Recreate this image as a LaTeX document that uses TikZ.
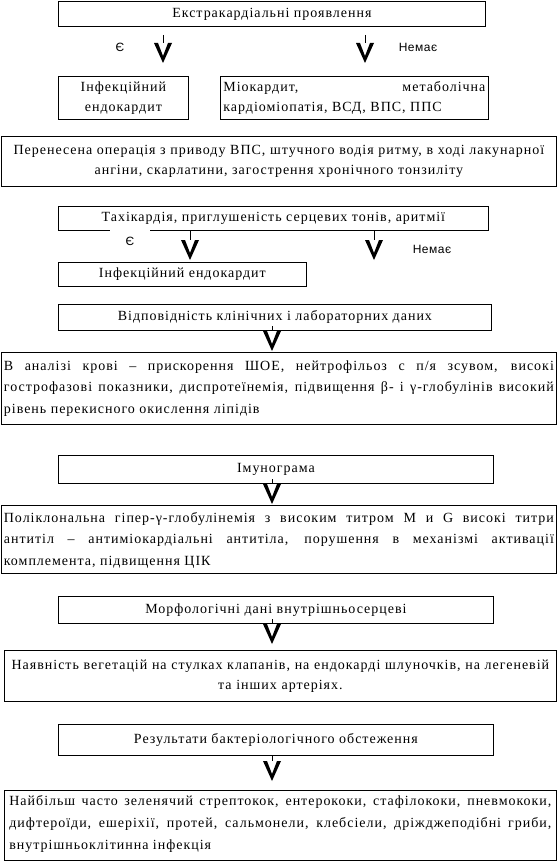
\documentclass[tikz,border=0pt]{standalone}
\usepackage{fontspec}
\setmainfont[LetterSpace=7]{Liberation Serif}
\newfontfamily\lblfont[LetterSpace=4]{Liberation Sans}
\begin{document}
\begin{tikzpicture}[x=1pt,y=-1pt,
  box/.style={draw, line width=0.8pt, inner sep=0pt, anchor=north west, align=center,
    font=\fontsize{14}{20}\selectfont},
  lbl/.style={font=\lblfont\fontsize{12}{14}\selectfont, inner sep=1pt},
  conn/.style={line width=0.6pt},
  vhead/.pic={\fill (-9,0) -- (0,20) -- (9,0) -- (5,0) -- (0,13) -- (-5,0) -- cycle;}
]
\useasboundingbox[fill=white] (0,0) rectangle (557,861);

\node[box, minimum width=427pt, minimum height=25pt] (b1) at (58,1) {Екстракардіальні проявлення};
\node[box, minimum width=130pt, minimum height=43pt, text width=124pt] (b2) at (58,76) {Інфекційний\\ендокардит};
\node[box, minimum width=268pt, minimum height=43pt, text width=262pt, align=justify] (b3) at (220,76) {Міокардит, метаболічна\linebreak кардіоміопатія, ВСД, ВПС, ППС};
\node[box, minimum width=555pt, minimum height=50pt, text width=549pt] (b4) at (1,136) {Перенесена операція з приводу ВПС, штучного водія ритму, в ході лакунарної\\ангіни, скарлатини, загострення хронічного тонзиліту};
\node[box, minimum width=430pt, minimum height=24pt] (b5) at (58,206) {Тахікардія, приглушеність серцевих тонів, аритмії};
\node[box, minimum width=248pt, minimum height=24pt] (b6) at (58,262) {Інфекційний ендокардит};
\node[box, minimum width=433pt, minimum height=26pt] (b7) at (58,304) {Відповідність клінічних і лабораторних даних};
\node[box, minimum width=555pt, minimum height=72pt] (b8) at (1,352) {\parbox[t][56pt][t]{550pt}{\fontsize{14}{21.5}\selectfont В аналізі крові – прискорення ШОЕ, нейтрофільоз с п/я зсувом, високі\linebreak гострофазові показники, диспротеїнемія, підвищення β- і γ-глобулінів високий\linebreak рівень перекисного окислення ліпідів}};
\node[box, minimum width=435pt, minimum height=28pt] (b9) at (58,455) {Імунограма};
\node[box, minimum width=555pt, minimum height=68pt] (b10) at (1,505) {\parbox[t][54pt][t]{550pt}{\fontsize{14}{21.5}\selectfont Поліклональна гіпер-γ-глобулінемія з високим титром М и G високі титри\linebreak антитіл – антиміокардіальні антитіла, порушення в механізмі активації\linebreak комплемента, підвищення ЦІК}};
\node[box, minimum width=435pt, minimum height=27pt] (b11) at (58,596) {Морфологічні дані внутрішньосерцеві};
\node[box, minimum width=552pt, minimum height=51pt, text width=546pt] (b12) at (4,650) {Наявність вегетацій на стулках клапанів, на ендокарді шлуночків, на легеневій\\та інших артеріях.};
\node[box, minimum width=435pt, minimum height=31pt] (b13) at (58,724) {Результати бактеріологічного обстеження};
\node[box, minimum width=552pt, minimum height=70pt] (b14) at (4,790) {\parbox[t][60pt][t]{542pt}{\fontsize{14}{22}\selectfont Найбільш часто зеленячий стрептокок, ентерококи, стафілококи, пневмококи,\linebreak дифтероїди, ешеріхії, протей, сальмонели, клебсіели, дріжджеподібні гриби,\linebreak внутрішньоклітинна інфекція}};

% labels
\node[lbl] (y1) at (120,47) {Є};
\node[lbl] (n1) at (418,47) {Немає};
\node[lbl, fill=white, minimum width=40pt, minimum height=24pt] (y2) at (130,241) {Є};
\node[lbl] (n2) at (432,249) {Немає};

% connectors
\coordinate (a1) at (163,35);
\coordinate (a2) at (365,35);
\coordinate (a3) at (190,231);
\coordinate (a4) at (374,231);
\coordinate (a5) at (272,326);
\coordinate (a6) at (272,479);
\coordinate (a7) at (272,619);
\coordinate (a8) at (272,756);
\draw[conn] (a1) -- ++(0,8) pic{vhead};
\draw[conn] (a2) -- ++(0,8) pic{vhead};
\draw[conn] (a3) -- ++(0,9) pic{vhead};
\draw[conn] (a4) -- ++(0,9) pic{vhead};
\draw[conn] (a5) -- ++(0,5) pic{vhead};
\draw[conn] (a6) -- ++(0,5) pic{vhead};
\draw[conn] (a7) -- ++(0,5) pic{vhead};
\draw[conn] (a8) -- ++(0,5) pic{vhead};
\end{tikzpicture}
\end{document}
